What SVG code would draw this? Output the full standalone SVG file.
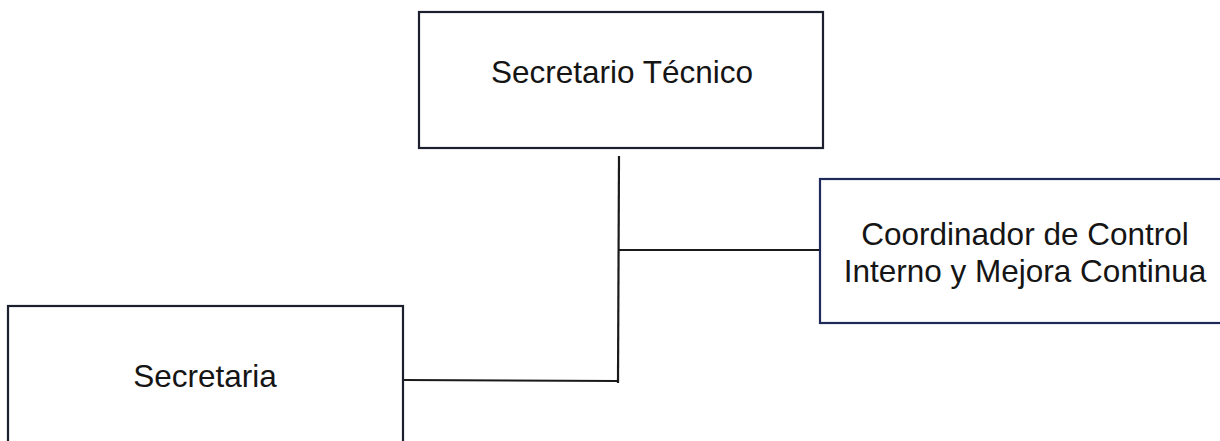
<svg xmlns="http://www.w3.org/2000/svg" width="1220" height="441" viewBox="0 0 1220 441">
<style>
.box{fill:#ffffff;stroke:#1b1f2e;stroke-width:2.2}
.blue{stroke:#1e2a5a}
.lbl{font-family:"Liberation Sans",Arial,sans-serif;font-size:31.5px;fill:#151515;text-anchor:middle}
.con{stroke:#1a1a1a;stroke-width:2.2;fill:none}
</style>
<rect width="1220" height="441" fill="#ffffff"/>
<g id="connectors">
<line class="con" x1="619" y1="156" x2="618" y2="383"/>
<line class="con" x1="619" y1="250" x2="820" y2="250"/>
<line class="con" x1="403" y1="380" x2="618" y2="381"/>
</g>
<g id="secretario-tecnico">
<rect class="box" x="419" y="12" width="404" height="136"/>
<text class="lbl" x="622" y="83">Secretario Técnico</text>
</g>
<g id="coordinador">
<rect class="box blue" x="820" y="179" width="420" height="144"/>
<text class="lbl" x="1025" y="245">Coordinador de Control</text>
<text class="lbl" x="1025" y="282">Interno y Mejora Continua</text>
</g>
<g id="secretaria">
<rect class="box" x="8" y="306" width="395" height="160"/>
<text class="lbl" x="205" y="387">Secretaria</text>
</g>
</svg>
